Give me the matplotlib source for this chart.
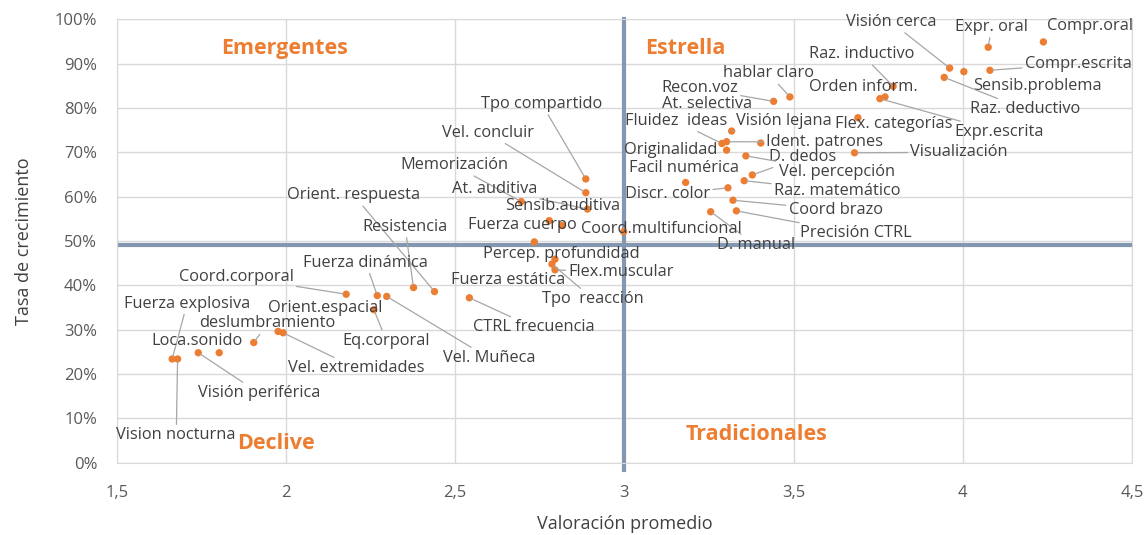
import numpy as np
import matplotlib
matplotlib.use("Agg")
import matplotlib.pyplot as plt
from matplotlib.ticker import FuncFormatter, MultipleLocator

plt.rcParams['font.family'] = ['Open Sans', 'DejaVu Sans']

# habilidades: valoracion promedio (x) y tasa de crecimiento en % (y)
names = ['Compr.oral', 'Expr. oral', 'Compr.escrita', 'Visión cerca', 'Sensib.problema',
         'Raz. deductivo', 'Raz. inductivo', 'Orden inform.', 'Expr.escrita', 'hablar claro',
         'Recon.voz', 'At. selectiva', 'Flex. categorías', 'Visión lejana', 'Fluidez  ideas',
         'Ident. patrones', 'Originalidad', 'D. dedos', 'Vel. percepción', 'Facil numérica',
         'Raz. matemático', 'Discr. color', 'Coord brazo', 'Precisión CTRL', 'D. manual',
         'Coord.multifuncional', 'Visualización',
         'Tpo compartido', 'Vel. concluir', 'Memorización', 'At. auditiva', 'Sensib.auditiva',
         'Fuerza cuerpo', 'Orient. respuesta', 'Resistencia', 'Percep. profundidad',
         'Flex.muscular', 'Fuerza estática', 'Tpo  reacción', 'CTRL frecuencia',
         'Fuerza dinámica', 'Coord.corporal', 'Fuerza explosiva', 'Orient.espacial',
         'deslumbramiento', 'Eq.corporal', 'Vel. Muñeca', 'Loca.sonido', 'Vel. extremidades',
         'Visión periférica', 'Vision nocturna']

valoracion = [4.238, 4.075, 4.080, 3.961, 4.003,
              3.945, 3.794, 3.770, 3.755, 3.489,
              3.441, 3.403, 3.690, 3.317, 3.288,
              3.302, 3.302, 3.378, 3.359, 3.181,
              3.354, 3.306, 3.321, 3.331, 3.255,
              2.998, 3.680,
              2.886, 2.886, 2.695, 2.891, 2.816,
              2.778, 2.439, 2.377, 2.795,
              2.795, 2.734, 2.786, 2.542,
              2.270, 2.178, 1.664, 1.977,
              1.905, 2.260, 2.298, 1.803, 1.992,
              1.741, 1.680]

crecimiento = [94.9, 93.7, 88.5, 89.0, 88.2,
               86.9, 84.9, 82.5, 82.1, 82.5,
               81.5, 72.1, 77.8, 74.8, 72.0,
               72.4, 70.5, 64.9, 69.2, 63.2,
               63.6, 62.0, 59.2, 56.8, 56.6,
               52.1, 69.9,
               64.0, 60.9, 58.9, 57.2, 53.5,
               54.6, 38.6, 39.5, 45.9,
               43.5, 49.8, 44.8, 37.2,
               37.7, 38.0, 23.4, 29.6,
               27.1, 34.5, 37.5, 24.8, 29.3,
               24.8, 23.4]

# layout of the data labels (text centre) and whether a leader line is drawn
lab_x = [4.376, 4.085, 4.341, 3.788, 4.221,
         4.183, 3.702, 3.707, 4.106, 3.426,
         3.222, 3.243, 3.796, 3.472, 3.152,
         3.590, 3.138, 3.527, 3.627, 3.176,
         3.629, 3.128, 3.624, 3.685, 3.388,
         3.108, 3.989,
         2.756, 2.596, 2.497, 2.616, 2.817,
         2.699, 2.201, 2.352, 2.815,
         2.990, 2.658, 2.908, 2.733,
         2.236, 1.853, 1.708, 2.117,
         1.946, 2.297, 2.600, 1.736, 2.208,
         1.921, 1.676]
lab_y = [98.6, 98.3, 90.0, 99.4, 85.0,
         79.7, 92.1, 84.8, 74.6, 87.8,
         84.4, 80.9, 76.4, 77.1, 77.1,
         72.3, 70.5, 69.0, 65.6, 66.4,
         61.3, 60.5, 57.0, 51.7, 49.1,
         52.7, 70.0,
         80.9, 74.4, 67.1, 61.7, 57.9,
         53.6, 60.3, 53.2, 47.1,
         42.9, 41.2, 36.9, 30.5,
         45.1, 41.9, 35.9, 35.0,
         31.4, 27.5, 23.6, 27.5, 21.3,
         15.7, 6.2]
leader = [0, 1, 1, 1, 0,
          1, 1, 0, 1, 1,
          1, 0, 0, 1, 1,
          1, 0, 1, 1, 0,
          1, 1, 1, 1, 1,
          0, 1,
          1, 1, 1, 1, 0,
          0, 1, 1, 0,
          1, 0, 1, 1,
          1, 1, 1, 0,
          1, 1, 1, 0, 1,
          1, 1]

cuadrantes = ['Emergentes', 'Estrella', 'Declive', 'Tradicionales']
cuad_x = [1.995, 3.180, 1.970, 3.390]
cuad_y = [93.5, 93.4, 4.4, 6.3]

orange = '#ED7D31'
txt = '#404040'

fig = plt.figure(figsize=(11.45, 5.35), dpi=100)
ax = fig.add_axes([0.1019, 0.1351, 0.8868, 0.8288])

ax.set_xlim(1.5, 4.5)
ax.set_ylim(0, 100)
ax.xaxis.set_major_locator(MultipleLocator(0.5))
ax.yaxis.set_major_locator(MultipleLocator(10))
ax.xaxis.set_major_formatter(FuncFormatter(lambda v, p: ('%g' % v).replace('.', ',')))
ax.yaxis.set_major_formatter(FuncFormatter(lambda v, p: '%d%%' % round(v)))
ax.grid(True, color='#d9d9d9', lw=1)
ax.set_axisbelow(True)
for s in ax.spines.values():
    s.set_color('#d9d9d9')
ax.tick_params(length=0, labelsize=12, labelcolor='#595959')
ax.tick_params(axis='y', pad=14)
ax.tick_params(axis='x', pad=16)

# reference lines
ax.plot([1.51, 4.5], [49, 49], color='#8497b0', lw=3, zorder=2)
ax.plot([3, 3], [-1.6, 100], color='#8497b0', lw=3, zorder=2, clip_on=False)

ax.scatter(valoracion, crecimiento, s=28, color=orange, zorder=4, edgecolors='none')

for i, n in enumerate(names):
    props = None
    if leader[i]:
        props = dict(arrowstyle='-', color='#a6a6a6', lw=0.9, shrinkA=0, shrinkB=2)
    ax.annotate(n, xy=(valoracion[i], crecimiento[i]), xytext=(lab_x[i], lab_y[i]),
                textcoords='data', ha='center', va='center', fontsize=11.8,
                color=txt, arrowprops=props, zorder=5, annotation_clip=False)

for q, qx, qy in zip(cuadrantes, cuad_x, cuad_y):
    ax.text(qx, qy, q, ha='center', va='center', fontsize=15.5, fontweight='bold', color=orange)

ax.set_xlabel('Valoración promedio', fontsize=13, color=txt, labelpad=10)
ax.set_ylabel('Tasa de crecimiento', fontsize=13, color=txt, labelpad=16)

fig.savefig('out.png', dpi=100)
